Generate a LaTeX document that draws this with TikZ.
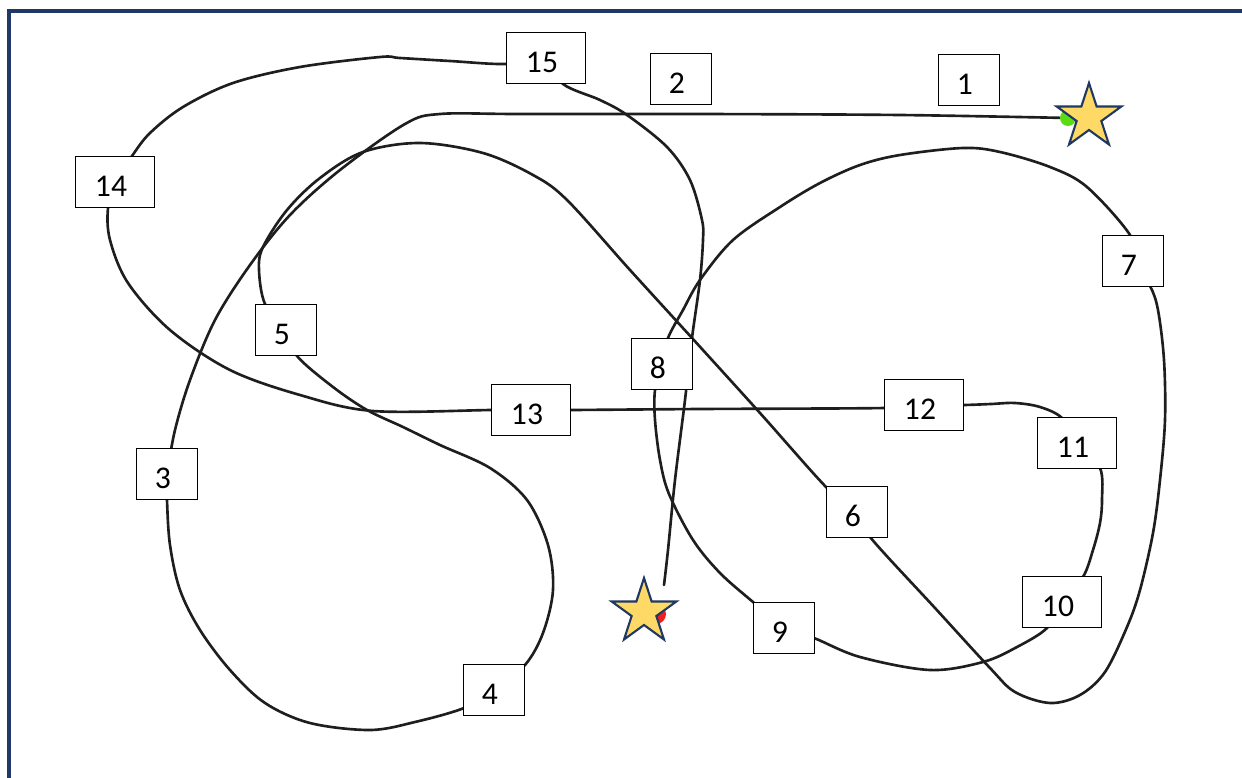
\documentclass[tikz,border=0pt]{standalone}
\usepackage{fontspec}
\setmainfont{Carlito}
\usetikzlibrary{shapes.geometric,backgrounds}
\definecolor{FrameBlue}{RGB}{31,56,100}
\definecolor{StarGold}{RGB}{255,217,102}
\definecolor{StartGreen}{RGB}{90,220,20}
\definecolor{GoalRed}{RGB}{240,30,30}
\definecolor{TrailGray}{RGB}{30,30,30}

\begin{document}
\begin{tikzpicture}[x=0.02cm,y=-0.02cm,
  numbox/.style={draw=black,fill=white,line width=1.1pt,minimum width=1.22cm,minimum height=1.02cm,inner sep=0pt,
    font=\fontsize{18}{21}\selectfont,text height=0.56cm,text depth=0pt,execute at begin node={\hspace*{-0.16cm}}},
  widebox/.style={numbox,minimum width=1.58cm},
  trail/.style={TrailGray,line width=1.5pt,line join=round,line cap=round},
  starmark/.style={star,star points=5,star point ratio=2.618,minimum size=1.36cm,inner sep=0pt,fill=StarGold,draw=FrameBlue,line width=1.2pt},
  dot/.style={circle,inner sep=0pt,minimum size=0.32cm}
]
\useasboundingbox (0,0) rectangle (1242,778);
\draw[FrameBlue,line width=2pt] (9,11) rectangle (1260,800);

% start and goal
\node[dot,fill=StartGreen] (startdot) at (1068,118) {};
\node[starmark] (start) at (1089,117) {};
\node[dot,fill=GoalRed,minimum size=0.4cm] (goaldot) at (656,614) {};
\node[starmark] (goal) at (644,612) {};

% numbered boxes
\node[numbox] (n1) at (969,80) {1};
\node[numbox] (n2) at (681,79) {2};
\node[numbox] (n3) at (167,474) {3};
\node[numbox] (n4) at (494,690) {4};
\node[numbox] (n5) at (286,330) {5};
\node[numbox] (n6) at (857,512) {6};
\node[numbox] (n7) at (1133,261) {7};
\node[numbox] (n8) at (662,364) {8};
\node[numbox] (n9) at (784,628) {9};
\node[widebox] (n10) at (1062,602) {10};
\node[widebox] (n11) at (1077,443) {11};
\node[widebox] (n12) at (924,405) {12};
\node[widebox] (n13) at (531,410) {13};
\node[widebox] (n14) at (115,182) {14};
\node[widebox] (n15) at (546,58) {15};

% the trail, under the boxes
\begin{scope}[on background layer]
\draw[trail] plot[smooth,tension=.55] coordinates {(startdot) (900,115) (700,114) (520,114) (440,114) (405,124) (340,170) (290,215) (250,265) (215,320) (190,380) (175,430) (n3)};
\draw[trail] plot[smooth,tension=.55] coordinates {(n3) (167,500) (170,545) (180,590) (200,630) (230,670) (265,703) (310,723) (370,730) (415,722) (464,708) (n4)};
\draw[trail] plot[smooth,tension=.55] coordinates {(n4) (525,665) (543,633) (553,590) (548,545) (527,500) (490,468) (440,445) (403,427) (367,410) (333,387) (297,356) (n5)};
\draw[trail] plot[smooth,tension=.55] coordinates {(n5) (265,304) (259,270) (263,247) (287,210) (320,178) (363,152) (420,143) (483,153) (533,175) (567,200) (630,270) (692,338) (760,413) (827,488) (n6)};
\draw[trail] plot[smooth,tension=.55] coordinates {(n6) (870,537) (935,608) (990,668) (1015,692) (1050,703) (1080,695) (1105,672) (1127,627) (1140,590) (1153,533) (1160,480) (1165,420) (1164,360) (1158,310) (1150,286) (n7)};
\draw[trail] plot[smooth,tension=.55] coordinates {(n7) (1130,235) (1087,187) (1050,167) (1000,152) (963,148) (900,155) (860,165) (820,183) (780,207) (733,240) (700,280) (683,310) (668,338) (n8)};
\draw[trail] plot[smooth,tension=.55] coordinates {(n8) (655,390) (655,420) (660,460) (669,494) (693,540) (720,573) (753,602) (n9)};
\draw[trail] plot[smooth,tension=.55] coordinates {(n9) (814,638) (860,657) (930,670) (983,662) (1017,647) (1047,628) (n10)};
\draw[trail] plot[smooth,tension=.55] coordinates {(n10) (1083,577) (1093,550) (1100,523) (1102,500) (1100,468) (n11)};
\draw[trail] plot[smooth,tension=.55] coordinates {(n11) (1062,418) (1040,407) (1015,403) (991,404) (963,405) (n12)};
\draw[trail] plot[smooth,tension=.55] coordinates {(n12) (885,408) (700,409) (571,410) (n13)};
\draw[trail] plot[smooth,tension=.55] coordinates {(n13) (492,410) (373,411) (300,395) (230,370) (170,330) (128,283) (110,240) (108,208) (n14)};
\draw[trail] plot[smooth,tension=.55] coordinates {(n14) (132,156) (150,133) (183,107) (233,83) (300,67) (380,57) (400,58) (450,61) (506,64) (n15)};
\draw[trail] plot[smooth,tension=.55] coordinates {(n15) (563,84) (600,100) (627,115) (667,147) (690,180) (702,220) (703,240) (700,280) (692,338) (685,400) (675,480) (668,550) ([shift={(20,-27)}]goal.center)};
\end{scope}
\end{tikzpicture}
\end{document}
